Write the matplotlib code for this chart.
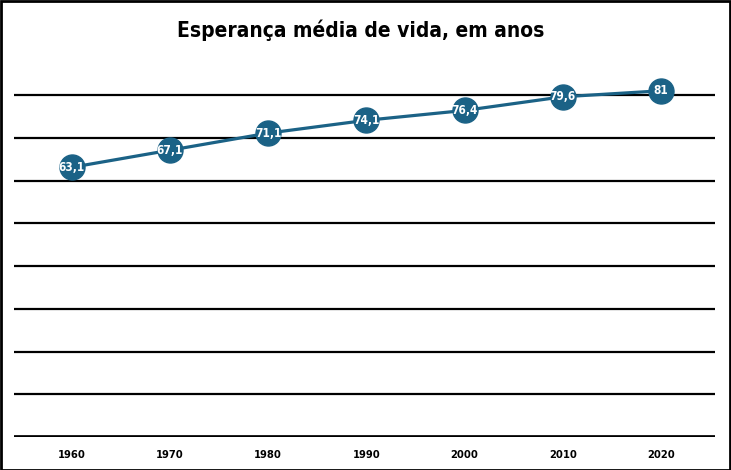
import matplotlib.pyplot as plt
from matplotlib.patches import Rectangle

# data
years = [1960, 1970, 1980, 1990, 2000, 2010, 2020]
life_exp = [63.1, 67.1, 71.1, 74.1, 76.4, 79.6, 81.0]
labels = ['63,1', '67,1', '71,1', '74,1', '76,4', '79,6', '81']
grid_vals = [0, 10, 20, 30, 40, 50, 60, 70, 80]

FONT = dict(family='DejaVu Sans', fontstretch='condensed', fontweight='bold')
BLUE = '#1b6286'

fig = plt.figure(figsize=(7.31, 4.70), dpi=100)
ax = fig.add_axes([0.019, 0.0702, 0.959, 0.773])

# horizontal rules
for v in grid_vals:
    ax.axhline(v, color='black', lw=3.4 if v == 0 else 1.6, zorder=1)

ax.plot(years, life_exp, color=BLUE, lw=2.3, zorder=2,
        marker='o', markersize=18, markerfacecolor=BLUE, markeredgecolor=BLUE)
for x, y, t in zip(years, life_exp, labels):
    ax.text(x, y, t, ha='center', va='center', color='white', fontsize=8.5,
            zorder=3, **FONT)

ax.set_xlim(1954.1, 2025.5)
ax.set_ylim(0, 85)
ax.set_xticks(years)
ax.set_xticklabels([str(y) for y in years], fontsize=8, **FONT)
ax.tick_params(axis='x', length=0, pad=9)
ax.set_yticks([])
for s in ax.spines.values():
    s.set_visible(False)

fig.text(0.493, 0.935, 'Esperança média de vida, em anos', ha='center', va='center',
         fontsize=15, **FONT)

# outer frame
fig.patches.append(Rectangle((0.001, 0.001), 0.998, 0.997, transform=fig.transFigure,
                             fill=False, edgecolor='black', lw=2))

fig.savefig('out.png', dpi=100)
